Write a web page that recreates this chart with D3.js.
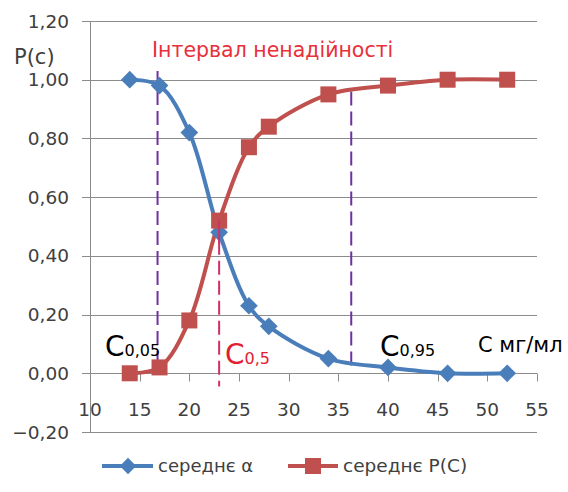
<!DOCTYPE html>
<html>
<head>
<meta charset="utf-8">
<script src="https://cdn.jsdelivr.net/npm/d3@7"></script>
<style>
  body { margin: 0; background: #fff; }
  svg text { font-family: "DejaVu Sans", sans-serif; }
</style>
</head>
<body>
<svg id="chart" width="568" height="492"></svg>
<script>
const conc = [14, 17, 20, 23, 26, 28, 34, 40, 46, 52];
const alphaMean = [1.00, 0.98, 0.82, 0.48, 0.23, 0.16, 0.05, 0.02, 0.00, 0.00];
const pMean = [0.00, 0.02, 0.18, 0.52, 0.77, 0.84, 0.95, 0.98, 1.00, 1.00];
const xTicks = [10, 15, 20, 25, 30, 35, 40, 45, 50, 55];
const yTicks = [-0.2, 0, 0.2, 0.4, 0.6, 0.8, 1.0, 1.2];
const markers = [
  { c: 16.8, top: 1.03, bottom: 0.01, color: '#7030a0', label: '0,05', lx: 105, textColor: '#000' },
  { c: 23.0, top: 0.52, bottom: -0.045, color: '#d0306a', label: '0,5', lx: 225, textColor: '#e02030' },
  { c: 36.3, top: 0.96, bottom: 0.01, color: '#7030a0', label: '0,95', lx: 380, textColor: '#000' }
];

const svg = d3.select('#chart');
const x = d3.scaleLinear().domain([10, 55]).range([90, 537]);
const y = d3.scaleLinear().domain([-0.2, 1.2]).range([432, 21]);
const fmt = (v) => d3.format('.2f')(v).replace('.', ',');

// gridlines
svg.append('g')
  .selectAll('line')
  .data(yTicks)
  .enter()
  .append('line')
  .attr('x1', 82)
  .attr('x2', 537)
  .attr('y1', (d) => Math.round(y(d)) + 0.5)
  .attr('y2', (d) => Math.round(y(d)) + 0.5)
  .attr('stroke', '#8c8c8c')
  .attr('stroke-width', 1);

svg.append('line')
  .attr('x1', 90.5).attr('x2', 90.5)
  .attr('y1', y(1.2)).attr('y2', y(-0.2))
  .attr('stroke', '#8c8c8c');

// y labels
svg.append('g')
  .selectAll('text')
  .data(yTicks)
  .enter()
  .append('text')
  .attr('x', 69)
  .attr('y', (d) => y(d) + 6.5)
  .attr('text-anchor', 'end')
  .attr('font-size', 18.5)
  .attr('fill', '#404040')
  .text(fmt);

// x axis at 0
const xAxis = svg.append('g').attr('transform', `translate(0,${Math.round(y(0)) + 0.5})`);
xAxis.selectAll('line')
  .data(xTicks)
  .enter()
  .append('line')
  .attr('x1', (d) => Math.round(x(d)) + 0.5)
  .attr('x2', (d) => Math.round(x(d)) + 0.5)
  .attr('y1', 0)
  .attr('y2', 8)
  .attr('stroke', '#8c8c8c');
xAxis.selectAll('text')
  .data(xTicks)
  .enter()
  .append('text')
  .attr('x', (d) => x(d))
  .attr('y', 42)
  .attr('text-anchor', 'middle')
  .attr('font-size', 18.5)
  .attr('fill', '#404040')
  .text((d) => d);

// dashed interval lines
svg.append('g')
  .selectAll('line')
  .data(markers)
  .enter()
  .append('line')
  .attr('x1', (d) => x(d.c))
  .attr('x2', (d) => x(d.c))
  .attr('y1', (d) => y(d.top))
  .attr('y2', (d) => y(d.bottom))
  .attr('stroke', (d) => d.color)
  .attr('stroke-width', 2)
  .attr('stroke-dasharray', '14,6');

// series
const line = d3.line()
  .x((d) => x(d[0]))
  .y((d) => y(d[1]))
  .curve(d3.curveCatmullRom.alpha(0.5));

const alphaPts = conc.map((c, i) => [c, alphaMean[i]]);
const pPts = conc.map((c, i) => [c, pMean[i]]);

svg.append('path').datum(pPts).attr('d', line)
  .attr('fill', 'none').attr('stroke', '#c0504d').attr('stroke-width', 4);
svg.append('path').datum(alphaPts).attr('d', line)
  .attr('fill', 'none').attr('stroke', '#4a7ebb').attr('stroke-width', 4);

svg.append('g')
  .selectAll('path')
  .data(alphaPts)
  .enter()
  .append('path')
  .attr('d', d3.symbol().type(d3.symbolDiamond2).size(200))
  .attr('transform', (d) => `translate(${x(d[0])},${y(d[1])})`)
  .attr('fill', '#4a7ebb');

svg.append('g')
  .selectAll('rect')
  .data(pPts)
  .enter()
  .append('rect')
  .attr('x', (d) => x(d[0]) - 8)
  .attr('y', (d) => y(d[1]) - 8)
  .attr('width', 16)
  .attr('height', 16)
  .attr('fill', '#c0504d');

// pink dash stays visible over the red marker
svg.append('line')
  .attr('x1', x(23)).attr('x2', x(23))
  .attr('y1', y(0.52)).attr('y2', y(0.44))
  .attr('stroke', '#d0306a').attr('stroke-width', 2);

// labels
svg.append('text')
  .attr('x', 14).attr('y', 64)
  .attr('font-size', 21).attr('fill', '#404040')
  .text('P(c)');

svg.append('text')
  .attr('x', 152).attr('y', 57)
  .attr('font-size', 20.5).attr('fill', '#e8303a')
  .text('Інтервал ненадійності');

const cLab = svg.append('g')
  .selectAll('text')
  .data(markers)
  .enter()
  .append('text')
  .attr('x', (d) => d.lx)
  .attr('y', (d, i) => (i === 1 ? 364 : 356))
  .attr('fill', (d) => d.textColor);
cLab.append('tspan').attr('font-size', 28).text('C');
cLab.append('tspan').attr('font-size', 16).text((d) => d.label);

svg.append('text')
  .attr('x', 478).attr('y', 352)
  .attr('font-size', 21).attr('fill', '#000')
  .text('C мг/мл');

// legend
const legend = svg.append('g').attr('transform', 'translate(0,466)');
legend.append('line').attr('x1', 102).attr('x2', 153).attr('stroke', '#4a7ebb').attr('stroke-width', 4);
legend.append('path')
  .attr('d', d3.symbol().type(d3.symbolDiamond2).size(170))
  .attr('transform', 'translate(128,0)')
  .attr('fill', '#4a7ebb');
legend.append('text').attr('x', 158).attr('y', 6).attr('font-size', 18).attr('fill', '#404040').text('середнє α');
legend.append('line').attr('x1', 288).attr('x2', 338).attr('stroke', '#c0504d').attr('stroke-width', 4);
legend.append('rect').attr('x', 305).attr('y', -8).attr('width', 16).attr('height', 16).attr('fill', '#c0504d');
legend.append('text').attr('x', 343).attr('y', 6).attr('font-size', 18.5).attr('fill', '#404040').text('середнє Р(С)');
</script>
</body>
</html>
